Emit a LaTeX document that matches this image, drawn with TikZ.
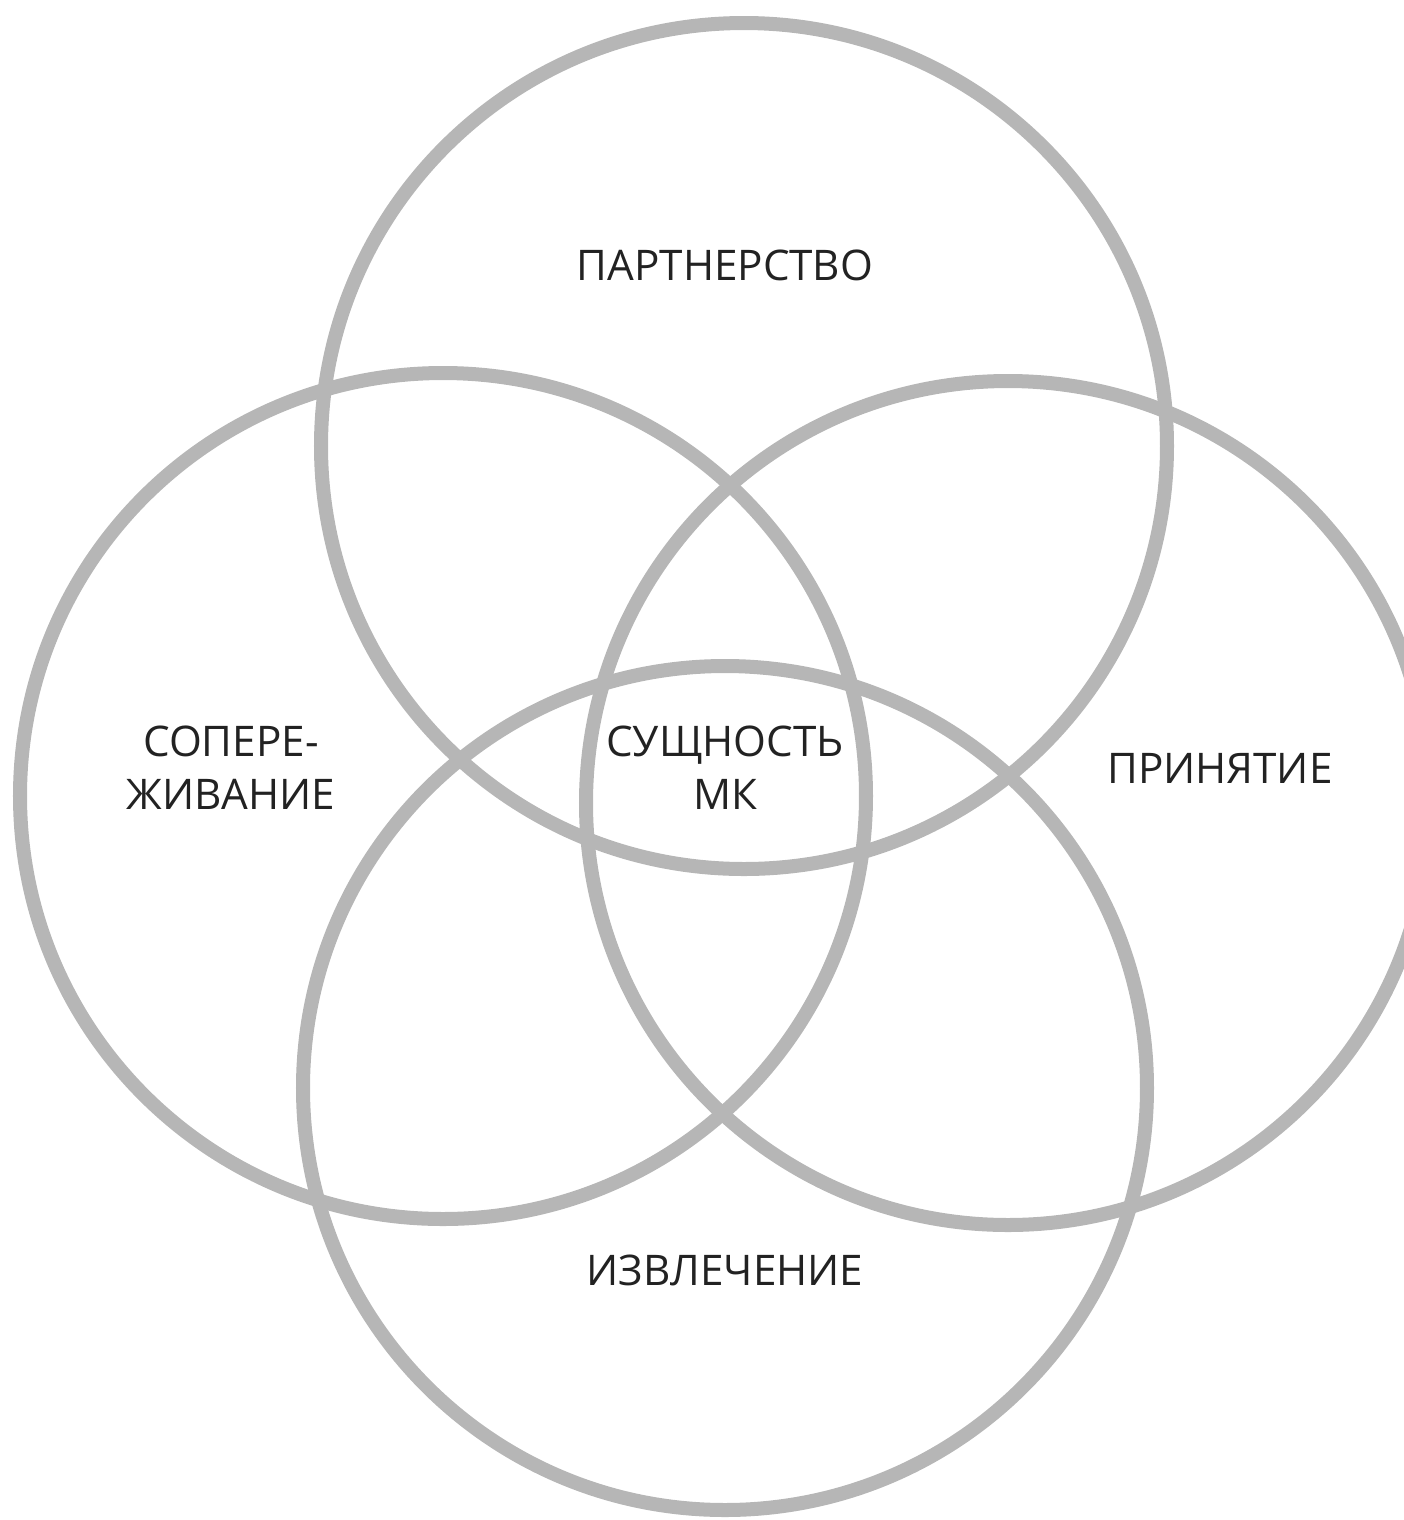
\documentclass[tikz,border=0pt]{standalone}
\usepackage{fontspec}
\setmainfont{Open Sans}
\usepackage{tikz}
\usetikzlibrary{positioning}
\definecolor{ringgray}{RGB}{182,182,182}
\definecolor{inkdark}{RGB}{34,34,34}

\begin{document}
\begin{tikzpicture}[x=0.01cm,y=-0.01cm,ring/.style={draw=ringgray,line width=0.14cm},lbl/.style={text=inkdark,align=center,inner sep=0pt,font=\fontsize{12}{15}\selectfont}]
\useasboundingbox (0,0) rectangle (1404,1520);

\draw[ring] (744,446) circle[radius=423];
\draw[ring] (443,796) circle[radius=423];
\draw[ring] (1008,803) circle[radius=422];
\draw[ring] (725,1088) circle[radius=422];

\node[lbl] (partner) at (725,265) {ПАРТНЕРСТВО};
\node[lbl] (empathy) at (231,768) {СОПЕРЕ-\\ЖИВАНИЕ};
\node[lbl] (essence) at (725,768) {СУЩНОСТЬ\\МК};
\node[lbl] (accept) at (1220,768) {ПРИНЯТИЕ};
\node[lbl] (extract) at (725,1270) {ИЗВЛЕЧЕНИЕ};
\end{tikzpicture}
\end{document}
